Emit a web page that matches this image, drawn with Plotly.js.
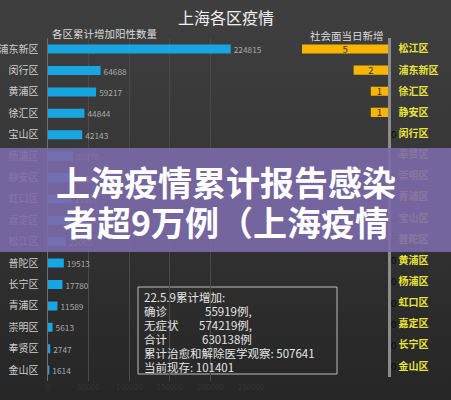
<!DOCTYPE html>
<html>
<head>
<meta charset="utf-8">
<script src="https://cdn.plot.ly/plotly-3.0.1.min.js"></script>
<style>
  html, body { margin: 0; padding: 0; }
  body { width: 451px; height: 400px; overflow: hidden;
         background: linear-gradient(180deg, #3f3f3f 0%, #363636 45%, #2b2b2b 80%, #262626 100%); }
  #chart { width: 451px; height: 400px; }
</style>
</head>
<body>
<div id="chart"></div>
<script>
// ---- data ----
const leftCats = ['浦东新区','闵行区','黄浦区','徐汇区','宝山区','杨浦区','静安区','虹口区','嘉定区','松江区','普陀区','长宁区','青浦区','崇明区','奉贤区','金山区'];
const leftVals = [224815, 64688, 59217, 44844, 42143, 30978, 30183, 29161, 28404, 22065, 19513, 17780, 11589, 5613, 2747, 1614];

const rightCats = ['松江区','浦东新区','徐汇区','静安区','闵行区','奉贤区','崇明区','青浦区','宝山区','普陀区','黄浦区','杨浦区','虹口区','嘉定区','长宁区','金山区'];
const rightVals = [5, 2, 1, 1, 0, 0, 0, 0, 0, 0, 0, 0, 0, 0, 0, 0];

const xTickVals = [0, 50000, 100000, 150000, 200000, 250000];

const boxLabels = ['22.5.9累计增加:', '确诊', '无症状', '合计', '累计治愈和解除医学观察: 507641', '当前现存: 101401'];
const boxValues = ['', '55919例,', '574219例,', '630138例', '', ''];

const titleText = '上海各区疫情';
const leftSub = '各区累计增加阳性数量';
const rightSub = '社会面当日新增';
const bannerLines = ['上海疫情累计报告感染', '者超9万例（上海疫情'];

// ---- helpers ----
const W = 451, H = 400;
const px = x => x / W;
const py = y => 1 - y / H;
const FONT = 'Noto Sans CJK SC, Noto Sans, sans-serif';

const traces = [
  {
    type: 'bar', orientation: 'h',
    x: leftVals, y: leftCats,
    xaxis: 'x', yaxis: 'y',
    width: 0.42,
    marker: { color: '#18a6e3' },
    text: leftVals.map(String),
    textposition: 'outside',
    textangle: 0,
    constraintext: 'none',
    textfont: { color: '#a8a8a8', size: 8.3, family: FONT },
    cliponaxis: false,
    hoverinfo: 'none'
  },
  {
    type: 'bar', orientation: 'h',
    x: rightVals, y: rightCats,
    xaxis: 'x2', yaxis: 'y2',
    width: 0.43,
    marker: { color: '#f8b602' },
    text: rightVals.map(String),
    textposition: rightVals.map(v => v > 0 ? 'inside' : 'outside'),
    textangle: 0,
    insidetextanchor: 'middle',
    insidetextfont: { color: '#3a2a00', size: 9.5, family: FONT },
    outsidetextfont: { color: '#0a0a0a', size: 9.5, family: FONT },
    cliponaxis: false,
    constraintext: 'none',
    hoverinfo: 'none'
  }
];

const annotations = [
  { text: titleText, x: px(226), y: py(17), xref: 'paper', yref: 'paper', showarrow: false,
    xanchor: 'center', yanchor: 'middle', font: { size: 16, color: '#f0f0f0', family: FONT } },
  { text: leftSub, x: px(50), y: py(33), xref: 'paper', yref: 'paper', showarrow: false,
    xanchor: 'left', yanchor: 'middle', font: { size: 10.5, color: '#dcdcdc', family: FONT } },
  { text: rightSub, x: px(386), y: py(35), xref: 'paper', yref: 'paper', showarrow: false,
    xanchor: 'right', yanchor: 'middle', font: { size: 10.5, color: '#dcdcdc', family: FONT } }
];

boxLabels.forEach((t, i) => {
  annotations.push({ text: t, x: px(142), y: py(297 + 13.9 * i), xref: 'paper', yref: 'paper',
    showarrow: false, xanchor: 'left', yanchor: 'middle',
    font: { size: 11.5, color: '#e4e4e4', family: FONT } });
});
boxValues.forEach((t, i) => {
  if (!t) return;
  annotations.push({ text: t, x: px(254), y: py(297 + 13.9 * i), xref: 'paper', yref: 'paper',
    showarrow: false, xanchor: 'right', yanchor: 'middle',
    font: { size: 11.5, color: '#e4e4e4', family: FONT } });
});

bannerLines.forEach((t, i) => {
  annotations.push({ text: t, x: px(226), y: py(181 + 40 * i), xref: 'paper', yref: 'paper',
    showarrow: false, xanchor: 'center', yanchor: 'middle',
    font: { size: 34, color: '#ffffff', family: FONT, weight: 'bold' } });
});

const layout = {
  width: W, height: H,
  margin: { l: 0, r: 0, t: 0, b: 0, pad: 0 },
  paper_bgcolor: 'rgba(0,0,0,0)',
  plot_bgcolor: 'rgba(0,0,0,0)',
  showlegend: false,
  font: { family: FONT },
  xaxis: {
    domain: [px(48), px(252)], range: [0, 251000], anchor: 'y',
    showgrid: true, gridcolor: '#4a4a4a', gridwidth: 1,
    tickmode: 'array', tickvals: xTickVals, ticktext: xTickVals.map(String),
    zeroline: false, showline: false,
    tickfont: { color: '#343434', size: 8, family: FONT },
    fixedrange: true
  },
  yaxis: {
    domain: [0.048, 0.904], anchor: 'x',
    type: 'category', categoryorder: 'array', categoryarray: leftCats,
    autorange: 'reversed',
    showline: true, linecolor: '#6e6e6e', linewidth: 1.5,
    showgrid: false, zeroline: false, ticks: '',
    ticklabelstandoff: 6,
    tickfont: { color: '#cfcfcf', size: 10, family: FONT },
    fixedrange: true
  },
  xaxis2: {
    domain: [px(290), px(388)], range: [5.7, 0], anchor: 'y2',
    showgrid: false, zeroline: false, showline: false, showticklabels: false, ticks: '',
    fixedrange: true
  },
  yaxis2: {
    domain: [0.0585, 0.904], anchor: 'x2', side: 'right',
    type: 'category', categoryorder: 'array', categoryarray: rightCats,
    autorange: 'reversed',
    showline: true, linecolor: '#8c8c8c', linewidth: 2.5,
    showgrid: false, zeroline: false, ticks: '',
    ticklabelstandoff: 6,
    tickfont: { color: '#e9e43c', size: 10, family: FONT, weight: 'bold' },
    fixedrange: true
  },
  shapes: [
    { type: 'rect', xref: 'paper', yref: 'paper',
      x0: px(138), x1: px(337), y0: py(374), y1: py(287),
      line: { color: '#bdbdbd', width: 1 }, fillcolor: 'rgba(0,0,0,0)', layer: 'below' },
    { type: 'rect', xref: 'paper', yref: 'paper',
      x0: 0, x1: 1, y0: py(252), y1: py(148),
      line: { width: 0 }, fillcolor: 'rgba(124,106,170,0.9)', layer: 'above' }
  ],
  annotations: annotations
};

Plotly.newPlot('chart', traces, layout, { displayModeBar: false, staticPlot: true });
</script>
</body>
</html>
